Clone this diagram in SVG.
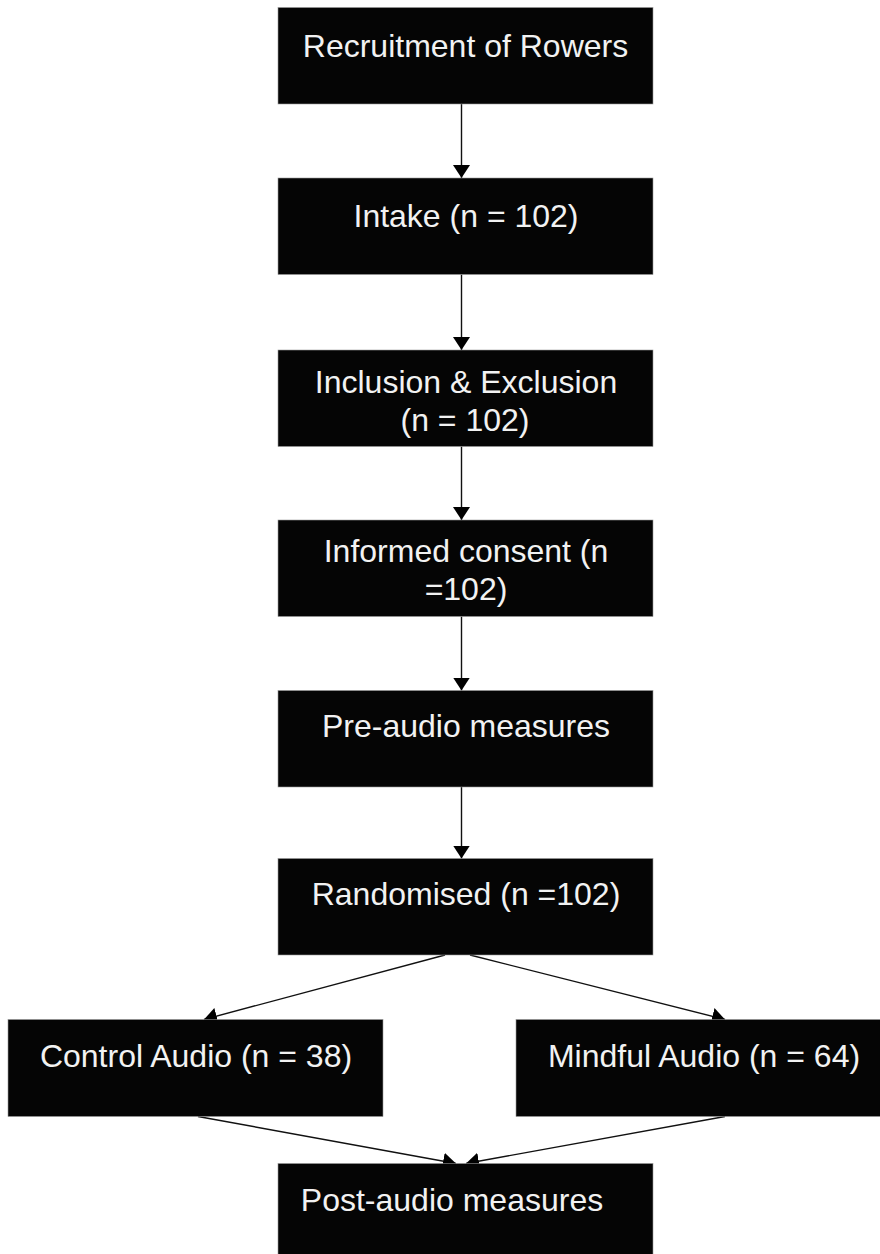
<svg xmlns="http://www.w3.org/2000/svg" width="880" height="1254" viewBox="0 0 880 1254">
<style>
.box{fill:#050505;stroke:#9a9a9a;stroke-width:0.6}
.lbl{font-family:"Liberation Sans",Arial,sans-serif;font-size:32px;fill:#f2f2f2;text-anchor:middle}
.conn{stroke:#111;stroke-width:1.4;fill:none;marker-end:url(#ah)}
</style>
<defs>
<marker id="ah" markerUnits="userSpaceOnUse" markerWidth="14" markerHeight="18" refX="13" refY="8.5" orient="auto">
<path d="M0,0 L13,8.5 L0,17 Z" fill="#000"/>
</marker>
</defs>
<rect width="880" height="1254" fill="#fff"/>
<g id="connectors">
<line class="conn" x1="461.5" y1="104" x2="461.5" y2="178"/>
<line class="conn" x1="461.5" y1="274.5" x2="461.5" y2="350"/>
<line class="conn" x1="461.5" y1="446.5" x2="461.5" y2="520"/>
<line class="conn" x1="461.5" y1="616.5" x2="461.5" y2="690.5"/>
<line class="conn" x1="461.5" y1="787" x2="461.5" y2="858.5"/>
<line class="conn" x1="445" y1="955" x2="204" y2="1019.5"/>
<line class="conn" x1="470" y1="955" x2="725" y2="1019.5"/>
<line class="conn" x1="198" y1="1116.5" x2="456" y2="1163.5"/>
<line class="conn" x1="725" y1="1116.5" x2="466" y2="1163.5"/>
</g>
<g id="n1"><rect class="box" x="278" y="7.5" width="375" height="96.5"/><text class="lbl" x="465.5" y="57">Recruitment of Rowers</text></g>
<g id="n2"><rect class="box" x="278" y="178" width="375" height="96.5"/><text class="lbl" x="466" y="227">Intake (n = 102)</text></g>
<g id="n3"><rect class="box" x="278" y="350" width="375" height="96.5"/><text class="lbl" x="466" y="393">Inclusion &amp; Exclusion</text><text class="lbl" x="465" y="431">(n = 102)</text></g>
<g id="n4"><rect class="box" x="278" y="520" width="375" height="96.5"/><text class="lbl" x="466" y="562">Informed consent (n</text><text class="lbl" x="466" y="600">=102)</text></g>
<g id="n5"><rect class="box" x="278" y="690.5" width="375" height="96.5"/><text class="lbl" x="466" y="737">Pre-audio measures</text></g>
<g id="n6"><rect class="box" x="278" y="858.5" width="375" height="96.5"/><text class="lbl" x="466" y="905">Randomised (n =102)</text></g>
<g id="n7"><rect class="box" x="8" y="1019.5" width="375" height="97"/><text class="lbl" x="196" y="1067">Control Audio (n = 38)</text></g>
<g id="n8"><rect class="box" x="516" y="1019.5" width="375" height="97"/><text class="lbl" x="704" y="1067">Mindful Audio (n = 64)</text></g>
<g id="n9"><rect class="box" x="278" y="1163.5" width="375" height="97"/><text class="lbl" x="452" y="1211">Post-audio measures</text></g>
</svg>
